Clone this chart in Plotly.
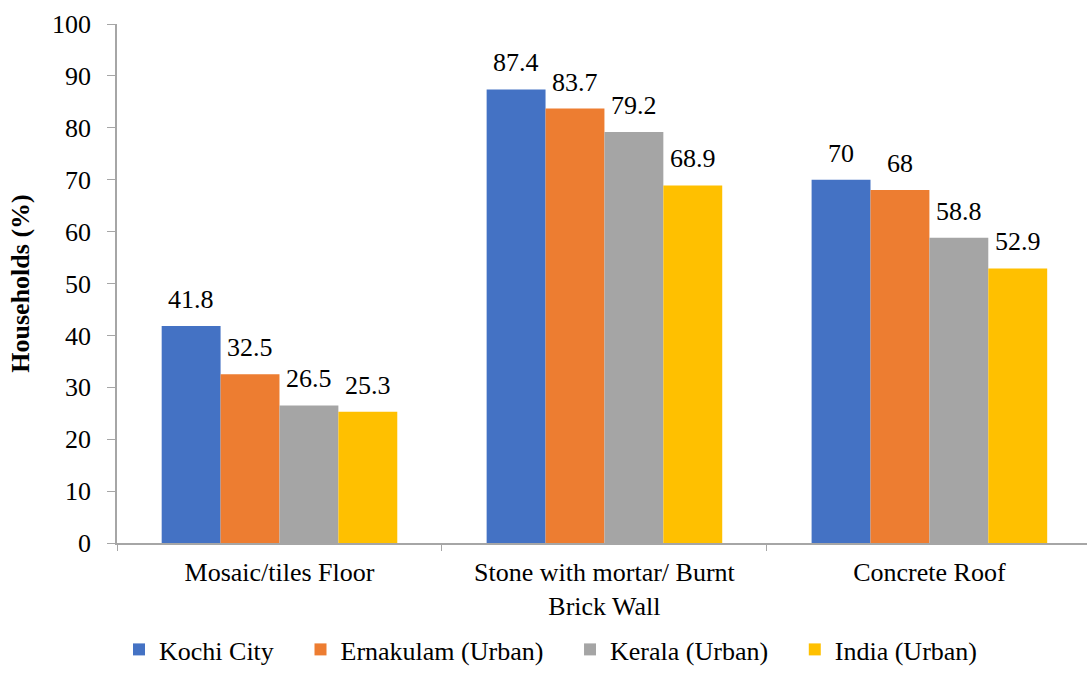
import plotly.graph_objects as go

categories = ["Mosaic/tiles Floor", "Stone with mortar/ Burnt<br>Brick Wall", "Concrete Roof"]
series_names = ["Kochi City", "Ernakulam (Urban)", "Kerala (Urban)", "India (Urban)"]
kochi = [41.8, 87.4, 70]
ernakulam = [32.5, 83.7, 68]
kerala = [26.5, 79.2, 58.8]
india = [25.3, 68.9, 52.9]
y_ticks = [0, 10, 20, 30, 40, 50, 60, 70, 80, 90, 100]

colors = ["#4472C4", "#ED7D31", "#A5A5A5", "#FFC000"]
FONT = "Liberation Serif"
FS = 26
# trailing non-collapsing space widens the gap between legend entries
PAD = "\u00a0" * 3 + "\u200a"

fig = go.Figure()
all_vals = [kochi, ernakulam, kerala, india]
for name, vals, col in zip(series_names, all_vals, colors):
    fig.add_trace(go.Bar(
        name=name + PAD, x=categories, y=vals,
        marker=dict(color=col, line=dict(width=0)), offsetgroup=name,
    ))

# value labels above each bar, placed in pixel offsets from the group centre
bar_px = 58.8
for i, vals in enumerate(all_vals):
    for c, v in zip(categories, vals):
        fig.add_annotation(x=c, y=v, text=f"{v:g}", showarrow=False, yanchor="bottom",
                           xshift=(i - 1.5) * bar_px, yshift=10,
                           font=dict(family=FONT, size=FS, color="#000"))

fig.update_layout(
    template="none",
    width=1087, height=673,
    margin=dict(l=117, r=0, t=23.5, b=129.5, autoexpand=False),
    paper_bgcolor="white", plot_bgcolor="white",
    barmode="group", bargap=0.275, bargroupgap=0,
    font=dict(family=FONT, size=FS, color="#000"),
    showlegend=True,
    legend=dict(orientation="h", x=119 / 1087, xref="container", xanchor="left",
                y=-0.006, yanchor="bottom", yref="container",
                font=dict(family=FONT, size=FS, color="#000"), itemclick=False),
    xaxis=dict(type="category", range=[-0.5, 2.485], showline=True, linecolor="#A6A6A6",
               linewidth=1.5, ticks="outside", tickson="boundaries", ticklen=6,
               tickcolor="#A6A6A6", tickfont=dict(family=FONT, size=FS, color="#000"),
               ticklabelstandoff=5, showgrid=False),
    yaxis=dict(range=[0, 100], tickvals=y_ticks, showline=True, linecolor="#A6A6A6",
               linewidth=1.5, ticks="outside", ticklen=8, tickcolor="#A6A6A6",
               tickfont=dict(family=FONT, size=FS, color="#000"), showgrid=False,
               zeroline=False, ticklabelstandoff=11,
               title=dict(text="<b>Households (%)</b>", font=dict(family=FONT, size=FS, color="#000"),
                          standoff=15)),
)

fig.write_html("out.html")
